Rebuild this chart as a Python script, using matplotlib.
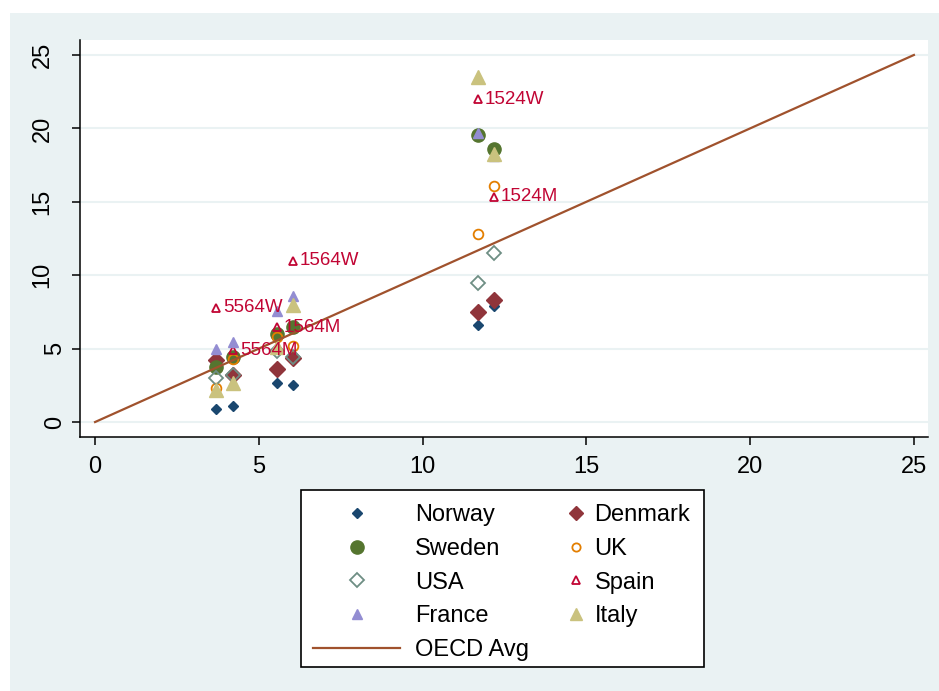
import matplotlib.pyplot as plt
from matplotlib.patches import Rectangle
from matplotlib.transforms import blended_transform_factory, ScaledTranslation

plt.rcParams['font.family'] = ['Liberation Sans', 'DejaVu Sans']

# groups (age/sex) and their OECD average (x axis)
groups = ['5564W', '5564M', '1564M', '1564W', '1524W', '1524M']
oecd_avg = [3.69, 4.21, 5.56, 6.04, 11.69, 12.18]

norway = [0.9, 1.09, 2.66, 2.52, 6.6, 7.9]
denmark = [4.2, 3.2, 3.6, 4.36, 7.49, 8.31]
sweden = [3.75, 4.43, 6.0, 6.47, 19.55, 18.6]
uk = [2.3, 4.3, 5.8, 5.18, 12.81, 16.08]
usa = [3.0, 3.2, 4.84, 4.43, 9.47, 11.51]
spain = [7.77, 4.9, 6.47, 10.97, 22.0, 15.33]
france = [4.97, 5.45, 7.56, 8.58, 19.69, 18.12]
italy = [2.18, 2.66, 5.1, 7.97, 23.5, 18.26]

avg_line = [0, 25]
ticks = [0, 5, 10, 15, 20, 25]

# Stata s2color palette
c_navy = '#1a476f'
c_maroon = '#90353b'
c_green = '#55752f'
c_orange = '#e37e00'
c_teal = '#6e8e84'
c_cran = '#c10534'
c_lav = '#938dd2'
c_khaki = '#cac27e'
c_sienna = '#a0522d'

W, H = 939, 691
fig = plt.figure(figsize=(W / 100, H / 100), dpi=100)
fig.patches.append(Rectangle((10 / W, 0), 1, (H - 13) / H, transform=fig.transFigure,
                             facecolor='#eaf2f3', edgecolor='none', zorder=-2))

ax = fig.add_axes([80 / W, (H - 437) / H, 848 / W, 397 / H])
ax.set_facecolor('white')

series = [
    ('Norway', norway, dict(marker='D', ms=5.5, color=c_navy)),
    ('Denmark', denmark, dict(marker='D', ms=8.5, color=c_maroon)),
    ('Sweden', sweden, dict(marker='o', ms=9.5, color=c_green)),
    ('UK', uk, dict(marker='o', ms=7, mfc='none', mec=c_orange, mew=1.3)),
    ('USA', usa, dict(marker='D', ms=7.5, mfc='none', mec=c_teal, mew=1.3)),
    ('Spain', spain, dict(marker='^', ms=6, mfc='none', mec=c_cran, mew=1.3)),
    ('France', france, dict(marker='^', ms=7, color=c_lav)),
    ('Italy', italy, dict(marker='^', ms=10, color=c_khaki)),
]

handles = {}
for name, vals, kw in series:
    h, = ax.plot(oecd_avg, vals, ls='none', label=name, clip_on=False, **kw)
    handles[name] = h

for g, x, y in zip(groups, oecd_avg, spain):
    ax.annotate(g, (x, y), xytext=(5, 0), textcoords='offset points',
                color=c_cran, fontsize=13.5, va='center', ha='left')

h_line, = ax.plot(avg_line, avg_line, color=c_sienna, lw=1.6, label='OECD Avg')
handles['OECD Avg'] = h_line

ax.set_xlim(-0.46, 25.43)
ax.set_ylim(-1.02, 26.02)
ax.set_xticks(ticks)
ax.set_yticks(ticks)
ax.grid(axis='y', color='#eaf2f3', lw=1.5, zorder=0)
ax.set_axisbelow(True)
for s in ['top', 'right']:
    ax.spines[s].set_visible(False)
for s in ['left', 'bottom']:
    ax.spines[s].set_linewidth(1.1)
ax.tick_params(axis='both', length=5.5, width=1.1, labelsize=17)
ax.tick_params(axis='x', pad=8)
ax.tick_params(axis='y', labelleft=False)

# rotated y labels, placed the way Stata does (short labels sit further right)
ytrans = blended_transform_factory(ax.transAxes, ax.transData)
for t in ticks:
    s = str(t)
    dx = (68.5 - 13 * len(s) - 80) / 100
    ax.text(0, t, s, rotation=90, fontsize=17, ha='center', va='center',
            transform=ytrans + ScaledTranslation(dx, 0, fig.dpi_scale_trans))

# legend: frame drawn once, two single-column legends inside
fig.patches.append(Rectangle((301 / W, (H - 667) / H), 403 / W, 177 / H,
                             transform=fig.transFigure, facecolor='white',
                             edgecolor='black', lw=1.2, zorder=5))
col1 = ['Norway', 'Sweden', 'USA', 'France', 'OECD Avg']
col2 = ['Denmark', 'UK', 'Spain', 'Italy']
leg_kw = dict(frameon=False, fontsize=17, borderpad=0, borderaxespad=0,
              labelspacing=0.5, bbox_transform=fig.transFigure)
leg1 = fig.legend([handles[n] for n in col1], col1, loc='upper left',
                  bbox_to_anchor=(313 / W, (H - 504) / H), handlelength=3.7,
                  handletextpad=0.62, **leg_kw)
leg2 = fig.legend([handles[n] for n in col2], col2, loc='upper left',
                  bbox_to_anchor=(565 / W, (H - 504) / H), handlelength=0.9,
                  handletextpad=0.35, markerscale=0.85, **leg_kw)
leg1.set_zorder(6)
leg2.set_zorder(6)

fig.savefig('out.png', dpi=100)
